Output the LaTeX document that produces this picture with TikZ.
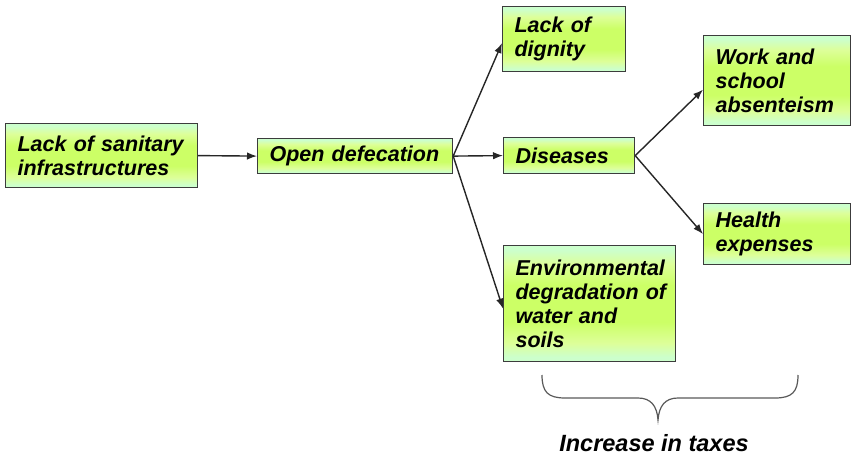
\documentclass[tikz,border=0pt]{standalone}
\usepackage{fontspec}
\setmainfont{Liberation Sans}
\usetikzlibrary{arrows.meta,calc}
\definecolor{pyel}{HTML}{FFFFCC}
\definecolor{pmint}{HTML}{CCFFCC}
\definecolor{lgrn}{HTML}{DDFF99}
\definecolor{ygrn}{HTML}{CCFF66}
\definecolor{bord}{HTML}{3C3C3C}
\definecolor{lnk}{HTML}{262626}
\pgfdeclareverticalshading{boxshade}{100bp}{
  color(0bp)=(pyel); color(13bp)=(pyel); color(17bp)=(pmint); color(27bp)=(pmint);
  color(33bp)=(lgrn); color(42bp)=(ygrn); color(58bp)=(ygrn); color(67bp)=(lgrn);
  color(73bp)=(pmint); color(83bp)=(pmint); color(87bp)=(pyel); color(100bp)=(pyel)}
\tikzset{
  cbox/.style={draw=bord, line width=1.2pt, shading=boxshade, anchor=north west,
    inner xsep=12pt, inner ysep=0pt, align=left,
    font=\fontsize{21.5}{24}\selectfont\bfseries\itshape},
  link/.style={draw=lnk, line width=1.4pt, -{Latex[length=10pt,width=7.5pt]}},
  bracepath/.style={draw=black!65, line width=1.2pt}
}
\begin{document}
\begin{tikzpicture}[x=1pt,y=-1pt]
\useasboundingbox (0,0) rectangle (858,462);
\node[cbox, minimum width=192pt, minimum height=64pt, text width=168pt] (san) at (5,123)
  {\mbox{Lack of sanitary}\\\mbox{infrastructures}};
\node[cbox, minimum width=195pt, minimum height=35pt, text width=171pt] (open) at (257,138)
  {\mbox{Open defecation}};
\node[cbox, minimum width=123pt, minimum height=65pt, text width=99pt] (dig) at (502,6)
  {\mbox{Lack of}\\\mbox{dignity}};
\node[cbox, minimum width=131pt, minimum height=36pt, text width=107pt] (dis) at (503,137)
  {\mbox{Diseases}};
\node[cbox, minimum width=172pt, minimum height=116pt, text width=148pt] (env) at (503,245)
  {\mbox{Environmental}\\\mbox{degradation of}\\\mbox{water and}\\\mbox{soils}};
\node[cbox, minimum width=147pt, minimum height=90pt, text width=123pt] (work) at (703,35)
  {\mbox{Work and}\\\mbox{school}\\\mbox{absenteism}};
\node[cbox, minimum width=147pt, minimum height=61pt, text width=123pt] (health) at (703,203)
  {\mbox{Health}\\\mbox{expenses}};

\draw[link] (san.east) -- (open.west);
\draw[link] (open.east) -- ([yshift=-4pt]dig.west);
\draw[link] (open.east) -- (dis.west);
\draw[link] (open.east) -- ([yshift=-5pt]env.west);
\draw[link] (dis.east) -- ([yshift=-9pt]work.west);
\draw[link] (dis.east) -- (health.west);

\draw[bracepath] (542,375) .. controls (542,392) and (548,398) .. (565,398) -- (638,398)
  .. controls (651,398) and (657,406) .. (658,420)
  .. controls (659,406) and (665,398) .. (678,398) -- (775,398)
  .. controls (792,398) and (798,392) .. (798,375);
\node[font=\fontsize{23.5}{26}\selectfont\bfseries\itshape] (tax) at (654,443) {Increase in taxes};
\end{tikzpicture}
\end{document}
